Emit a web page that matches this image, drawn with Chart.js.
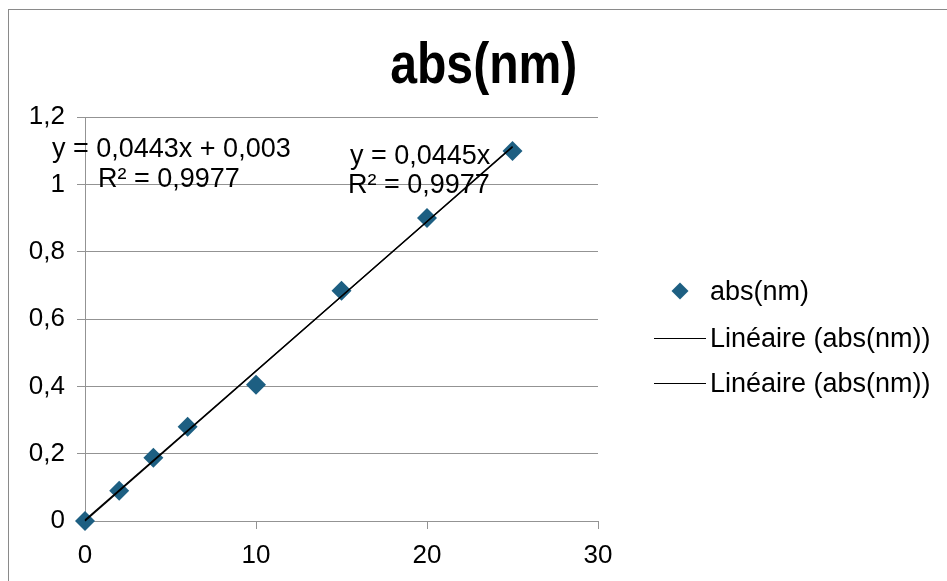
<!DOCTYPE html>
<html lang="fr">

<head>
  <meta charset="UTF-8" />
  <title>abs(nm)</title>
  <script src="https://cdn.jsdelivr.net/npm/chart.js"></script>
  <style>
    body {
      margin: 0;
      background: white;
      font-family: "Liberation Sans", Arial, sans-serif;
      color: #000;
    }

    .wrap {
      position: relative;
      width: 947px;
      height: 581px;
      overflow: hidden;
    }

    .frame {
      position: absolute;
      left: 8px;
      top: 9px;
      width: 1000px;
      height: 700px;
      border-left: 1px solid #8a8a8a;
      border-top: 1px solid #8a8a8a;
    }

    canvas {
      position: absolute;
      left: 0;
      top: 0;
    }

    .title {
      position: absolute;
      left: 0;
      top: 33px;
      width: 968px;
      text-align: center;
      font-weight: bold;
      font-size: 58px;
      line-height: 60px;
    }

    .title span {
      display: inline-block;
      transform: scaleX(0.83);
    }

    .txt {
      position: absolute;
      font-size: 27px;
      line-height: 30px;
      white-space: nowrap;
    }

    .diamond {
      position: absolute;
      width: 12px;
      height: 12px;
      background: #1d5f82;
      transform: rotate(45deg);
    }

    .seg {
      position: absolute;
      width: 52px;
      height: 0;
      border-top: 1.3px solid #000;
    }
  </style>
</head>

<body>
  <div class="wrap">
    <div class="frame"></div>
    <canvas id="absChart" width="947" height="581"></canvas>
    <div class="title"><span>abs(nm)</span></div>

    <div class="txt" style="left:52px; top:133px;">y = 0,0443x + 0,003</div>
    <div class="txt" style="left:98px; top:163px;">R² = 0,9977</div>
    <div class="txt" style="left:350px; top:140px;">y = 0,0445x</div>
    <div class="txt" style="left:348px; top:169px;">R² = 0,9977</div>

    <div class="diamond" style="left:674px; top:285px;"></div>
    <div class="txt" style="left:710px; top:276px;">abs(nm)</div>
    <div class="seg" style="left:654px; top:338px;"></div>
    <div class="txt" style="left:710px; top:323px;">Linéaire (abs(nm))</div>
    <div class="seg" style="left:654px; top:383px;"></div>
    <div class="txt" style="left:710px; top:368px;">Linéaire (abs(nm))</div>
  </div>

  <script>
    // measured points
    const concentrations = [0, 2, 4, 6, 10, 15, 20, 25];
    const absValues = [0, 0.09, 0.188, 0.28, 0.405, 0.684, 0.9, 1.099];

    // trendline ends (x = 0 and x = 25) read from the two equations
    const trendX = [0, 25];
    const trendA = [0.003, 1.1105];   // y = 0,0443x + 0,003
    const trendB = [0, 1.1125];       // y = 0,0445x

    const xTicks = [0, 10, 20, 30];

    const toPoints = (xs, ys) => xs.map((x, i) => ({ x: x, y: ys[i] }));

    Chart.defaults.font.family = "'Liberation Sans', Arial, sans-serif";
    Chart.defaults.color = "#000";

    const gridColor = "#939393";

    const ctx = document.getElementById("absChart").getContext("2d");
    new Chart(ctx, {
      type: "scatter",
      data: {
        datasets: [
          {
            label: "abs(nm)",
            data: toPoints(concentrations, absValues),
            pointStyle: "rectRot",
            pointRadius: 10,
            pointHoverRadius: 10,
            backgroundColor: "#1d5f82",
            borderColor: "#1d5f82",
            borderWidth: 0,
            clip: false,
            order: 1
          },
          {
            type: "line",
            label: "Linéaire (abs(nm))",
            data: toPoints(trendX, trendA),
            borderColor: "#000",
            borderWidth: 1.3,
            pointRadius: 0,
            fill: false,
            clip: false,
            order: 0
          },
          {
            type: "line",
            label: "Linéaire (abs(nm))",
            data: toPoints(trendX, trendB),
            borderColor: "#000",
            borderWidth: 1.3,
            pointRadius: 0,
            fill: false,
            clip: false,
            order: 0
          }
        ]
      },
      options: {
        responsive: false,
        animation: false,
        layout: {
          padding: { left: 0, top: 117, right: 349, bottom: 0 }
        },
        plugins: {
          legend: { display: false },
          title: { display: false },
          tooltip: { enabled: false }
        },
        scales: {
          x: {
            type: "linear",
            min: 0,
            max: 30,
            afterFit: (scale) => { scale.height = 60; },
            afterBuildTicks: (scale) => { scale.ticks = xTicks.map(v => ({ value: v })); },
            grid: {
              drawOnChartArea: false,
              drawTicks: true,
              tickLength: 8,
              color: gridColor
            },
            border: { color: gridColor, width: 1 },
            ticks: {
              font: { size: 26 },
              padding: 11,
              maxRotation: 0
            }
          },
          y: {
            min: 0,
            max: 1.2,
            afterFit: (scale) => { scale.width = 85; },
            grid: {
              color: gridColor,
              tickLength: 8
            },
            border: { color: gridColor, width: 1 },
            ticks: {
              stepSize: 0.2,
              font: { size: 26 },
              padding: 12,
              callback: (v) => String(Number(v.toFixed(1))).replace(".", ",")
            }
          }
        }
      }
    });
  </script>
</body>

</html>
